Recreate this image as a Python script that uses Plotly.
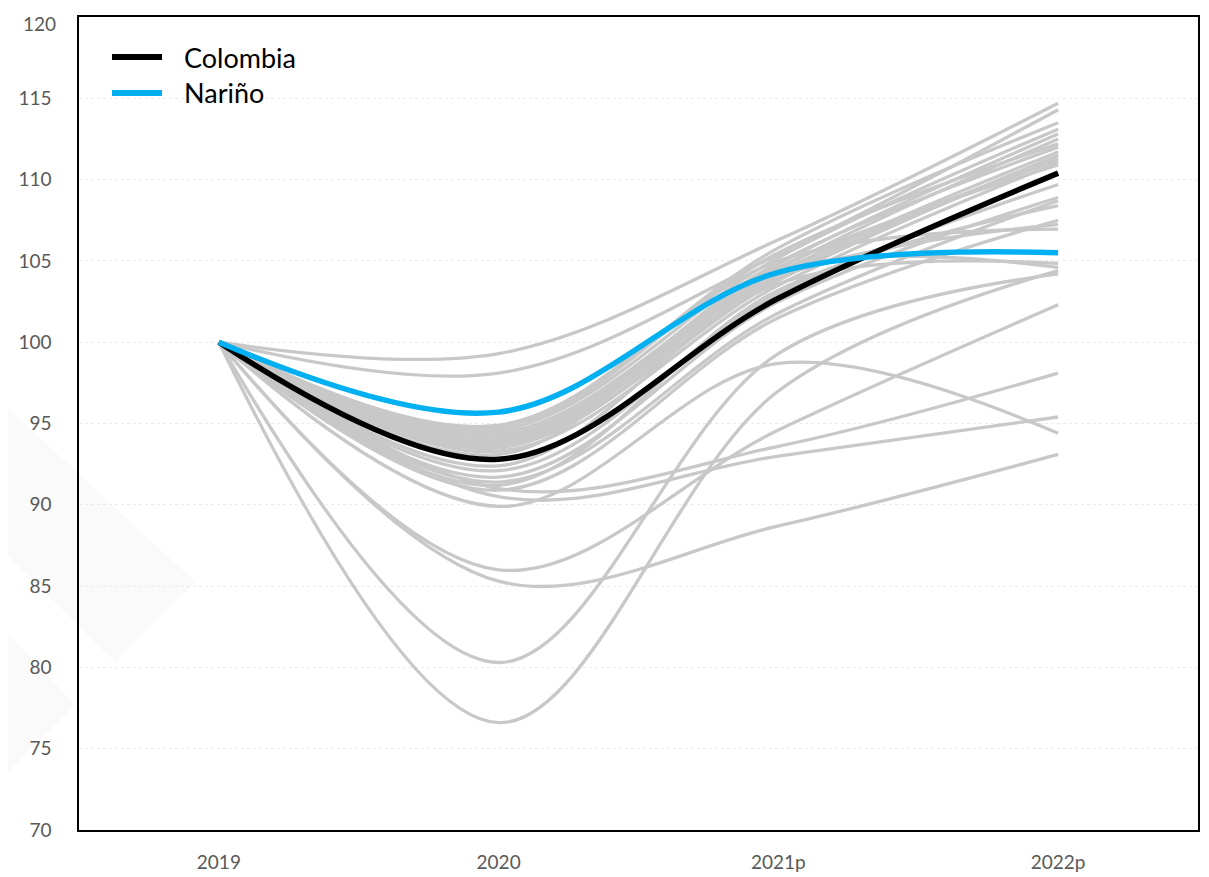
import plotly.graph_objects as go

years = ["2019", "2020", "2021p", "2022p"]

colombia = [100, 92.8, 102.7, 110.4]
narino = [100, 95.7, 104.3, 105.5]

# Other departments (gray), values for 2020, 2021p, 2022p (2019 = 100)
dept_2020 = [99.3, 98.1, 94.9, 94.6, 94.4, 94.2, 94.0, 93.8, 93.6, 93.5, 93.3,
             92.1, 91.7, 91.4, 91.2, 90.9, 93.9, 94.6, 92.4, 93.1, 76.6, 80.3,
             86.0, 91.0, 90.5, 89.9, 85.3, 94.2, 93.7, 94.8]
dept_2021 = [106.3, 105.4, 105.8, 105.2, 104.8, 104.5, 104.9, 104.2, 103.8, 104.0, 103.5,
             103.0, 102.5, 101.8, 103.2, 101.5, 104.0, 105.0, 103.6, 104.4, 97.0, 99.3,
             94.6, 93.6, 93.0, 98.7, 88.7, 104.6, 104.3, 105.5]
dept_2022 = [114.7, 114.3, 113.5, 113.1, 112.8, 112.5, 112.0, 111.7, 111.5, 111.3, 111.05,
             109.7, 108.9, 108.7, 108.4, 107.5, 107.25, 106.95, 104.85, 104.6, 104.4, 104.2,
             102.3, 98.1, 95.4, 94.4, 93.1, 110.9, 111.2, 112.2]

y_ticks = [70, 75, 80, 85, 90, 95, 100, 105, 110, 115, 120]

legend_names = ["Colombia", "Nariño"]
legend_colors = ["#000000", "#00B0F0"]

FONT = "Lato"
TICK_COLOR = "#595959"

fig = go.Figure()

for a, b, c in zip(dept_2020, dept_2021, dept_2022):
    fig.add_trace(go.Scatter(
        x=years, y=[100, a, b, c], mode="lines",
        line=dict(color="#C8C8C8", width=3.3, shape="spline", smoothing=1.0),
        showlegend=False, hoverinfo="skip"))

fig.add_trace(go.Scatter(
    x=years, y=colombia, mode="lines", name="Colombia", showlegend=False,
    line=dict(color=legend_colors[0], width=5.5, shape="spline", smoothing=1.0)))
fig.add_trace(go.Scatter(
    x=years, y=narino, mode="lines", name="Nariño", showlegend=False,
    line=dict(color=legend_colors[1], width=5.5, shape="spline", smoothing=1.0)))

# The page body has an 8px margin, so the figure is offset by 8px.
OFF = 8
W, H = 1209 - OFF, 877 - OFF
# plot area in page pixels
L, R, T, B = 79, 1198, 17, 830

def px(x):
    return (x - L) / (R - L)
def py(y):
    return (B - y) / (B - T)

# faint watermark shapes at the left edge
wm1 = "M {},{} L {},{} L {},{} L {},{} Z".format(px(8), py(408), px(195), py(582), px(115), py(662), px(8), py(556))
wm2 = "M {},{} L {},{} L {},{} Z".format(px(8), py(633), px(75), py(705), px(8), py(772))
for p in (wm1, wm2):
    fig.add_shape(type="path", path=p, xref="paper", yref="paper",
                  fillcolor="#FAFAFA", line=dict(width=0), layer="below")

# legend drawn inside the plot (top-left)
for i, (name, col) in enumerate(zip(legend_names, legend_colors)):
    yy = 57 + i * 36
    fig.add_shape(type="line", xref="paper", yref="paper",
                  x0=px(112), x1=px(162), y0=py(yy), y1=py(yy),
                  line=dict(color=col, width=6))
    fig.add_annotation(xref="paper", yref="paper", x=px(182), y=py(yy),
                       xanchor="left", yanchor="middle", text=name, showarrow=False,
                       font=dict(size=27, color="#000000", family=FONT))

# top tick label (would be dropped at the figure edge) written as text
top_tick = y_ticks[-1]
fig.add_annotation(xref="paper", yref="paper", x=px(58), y=py(10),
                   xanchor="right", yanchor="top", text=str(top_tick), showarrow=False,
                   font=dict(size=19, color=TICK_COLOR, family=FONT))

fig.update_layout(
    width=W, height=H,
    margin=dict(l=L - OFF, r=(1209 - R), t=T - OFF, b=(877 - B)),
    paper_bgcolor="white", plot_bgcolor="white",
    font=dict(family=FONT, color=TICK_COLOR),
    showlegend=False,
)

fig.update_xaxes(
    type="category", range=[-0.5, 3.5], automargin=False,
    showline=True, linecolor="#000000", linewidth=1.5, mirror=True,
    showgrid=False, ticks="", tickfont=dict(size=19, color=TICK_COLOR, family=FONT),
    ticklabelstandoff=14, zeroline=False)

fig.update_yaxes(
    range=[70, 120], tickvals=y_ticks[:-1], automargin=False,
    showline=True, linecolor="#000000", linewidth=1.5, mirror=True,
    showgrid=True, gridcolor="#EBEBEB", gridwidth=1, griddash="dot",
    ticks="", tickfont=dict(size=19, color=TICK_COLOR, family=FONT),
    ticklabelstandoff=22, zeroline=False)

fig.write_html("out.html")
